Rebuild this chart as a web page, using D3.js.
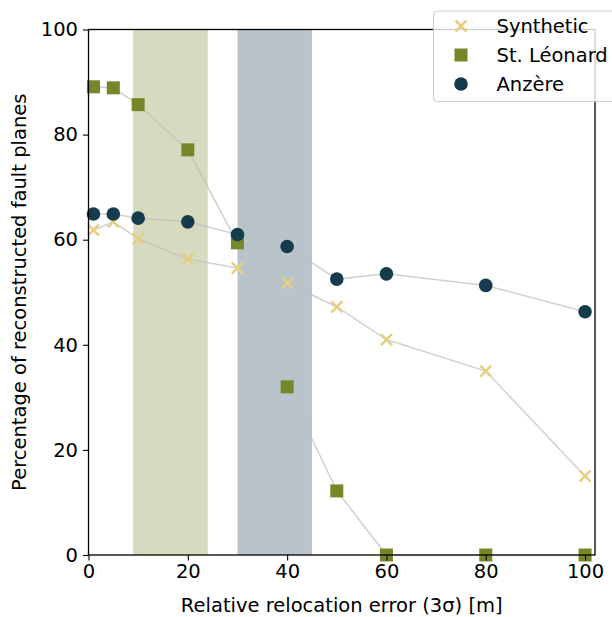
<!DOCTYPE html>
<html>
<head>
<meta charset="utf-8">
<script src="https://cdn.jsdelivr.net/npm/d3@7"></script>
<style>
  body { margin: 0; background: #fff; }
  svg { font-family: "DejaVu Sans", sans-serif; }
</style>
</head>
<body>
<div id="chart"></div>
<script>
// Relative relocation error (x) and percentages per dataset
const errors = [1, 5, 10, 20, 30, 40, 50, 60, 80, 100];
const synthetic = [61.8, 63.4, 60.2, 56.3, 54.6, 51.8, 47.2, 41.0, 35.0, 15.0];
const stLeonard = [89.1, 88.9, 85.7, 77.1, 59.4, 32.0, 12.2, 0, 0, 0];
const anzere = [64.9, 64.9, 64.1, 63.4, 61.0, 58.7, 52.5, 53.5, 51.3, 46.3];
const bands = [[9, 24], [30, 45]];
const xTicks = [0, 20, 40, 60, 80, 100];
const yTicks = [0, 20, 40, 60, 80, 100];

const width = 612, height = 617;
const margin = { top: 29.5, right: 17, bottom: 62, left: 88.5 };
const fs = 19.5;

const svg = d3.select('#chart')
  .append('svg')
  .attr('width', width)
  .attr('height', height);

const x = d3.scaleLinear().domain([0, 102]).range([margin.left, width - margin.right]);
const y = d3.scaleLinear().domain([0, 100]).range([height - margin.bottom, margin.top]);

// shaded bands
const bandColors = ['#d6dbbf', '#b9c4ca'];
svg.selectAll('rect.band')
  .data(bands)
  .enter()
  .append('rect')
  .attr('x', d => x(d[0]))
  .attr('width', d => x(d[1]) - x(d[0]))
  .attr('y', y(100))
  .attr('height', y(0) - y(100))
  .attr('fill', (d, i) => bandColors[i]);

// connecting lines
const line = d3.line().x(d => x(d[0])).y(d => y(d[1]));
[synthetic, stLeonard, anzere].forEach(vals => {
  svg.append('path')
    .datum(errors.map((e, i) => [e, vals[i]]))
    .attr('d', line)
    .attr('fill', 'none')
    .attr('stroke', '#bdbdbd')
    .attr('stroke-opacity', 0.7)
    .attr('stroke-width', 1.5);
});

// markers
const cSyn = '#e5cf7e', cStl = '#76872a', cAnz = '#143c4c';

function cross(g, cx, cy) {
  const s = 5.5;
  g.append('path')
    .attr('d', `M${cx - s},${cy - s}L${cx + s},${cy + s}M${cx - s},${cy + s}L${cx + s},${cy - s}`)
    .attr('stroke', cSyn)
    .attr('stroke-width', 2.5);
}

const gSyn = svg.append('g');
errors.forEach((e, i) => cross(gSyn, x(e), y(synthetic[i])));

svg.append('g').selectAll('rect')
  .data(errors.map((e, i) => [e, stLeonard[i]]))
  .enter()
  .append('rect')
  .attr('x', d => x(d[0]) - 6.5)
  .attr('y', d => y(d[1]) - 6.5)
  .attr('width', 13)
  .attr('height', 13)
  .attr('fill', cStl);

svg.append('g').selectAll('circle')
  .data(errors.map((e, i) => [e, anzere[i]]))
  .enter()
  .append('circle')
  .attr('cx', d => x(d[0]))
  .attr('cy', d => y(d[1]))
  .attr('r', 6.8)
  .attr('fill', cAnz);

// axes
const xAxis = svg.append('g')
  .attr('transform', `translate(0,${y(0)})`)
  .call(d3.axisBottom(x).tickValues(xTicks).tickSize(5.5).tickPadding(4));
const yAxis = svg.append('g')
  .attr('transform', `translate(${x(0)},0)`)
  .call(d3.axisLeft(y).tickValues(yTicks).tickSize(5.5).tickPadding(5));
[xAxis, yAxis].forEach(a => {
  a.select('.domain').remove();
  a.selectAll('.tick line').attr('stroke', '#000').attr('stroke-width', 1.1);
  a.selectAll('.tick text').attr('font-size', fs).attr('fill', '#000')
    .attr('font-family', '"DejaVu Sans", sans-serif');
});

// frame
svg.append('rect')
  .attr('x', x(0))
  .attr('y', y(100))
  .attr('width', x(102) - x(0))
  .attr('height', y(0) - y(100))
  .attr('fill', 'none')
  .attr('stroke', '#000')
  .attr('stroke-width', 1.3);

// axis labels
svg.append('text')
  .attr('x', (x(0) + x(102)) / 2)
  .attr('y', 612)
  .attr('text-anchor', 'middle')
  .attr('font-size', fs)
  .text('Relative relocation error (3σ) [m]');

svg.append('text')
  .attr('transform', `translate(26,${(y(0) + y(100)) / 2}) rotate(-90)`)
  .attr('text-anchor', 'middle')
  .attr('font-size', fs)
  .text('Percentage of reconstructed fault planes');

// legend
const leg = svg.append('g');
leg.append('rect')
  .attr('x', 433.5)
  .attr('y', 11)
  .attr('width', 200)
  .attr('height', 90.5)
  .attr('rx', 4)
  .attr('fill', '#fff')
  .attr('fill-opacity', 0.8)
  .attr('stroke', '#cccccc')
  .attr('stroke-width', 1);

const legendItems = ['Synthetic', 'St. Léonard', 'Anzère'];
legendItems.forEach((name, i) => {
  const cy = 26 + i * 29;
  const cx = 461;
  if (i === 0) cross(leg, cx, cy);
  else if (i === 1) leg.append('rect').attr('x', cx - 6.5).attr('y', cy - 6.5).attr('width', 13).attr('height', 13).attr('fill', cStl);
  else leg.append('circle').attr('cx', cx).attr('cy', cy).attr('r', 6.8).attr('fill', cAnz);
  leg.append('text')
    .attr('x', 496.5)
    .attr('y', cy + 7)
    .attr('font-size', fs)
    .text(name);
});
</script>
</body>
</html>
